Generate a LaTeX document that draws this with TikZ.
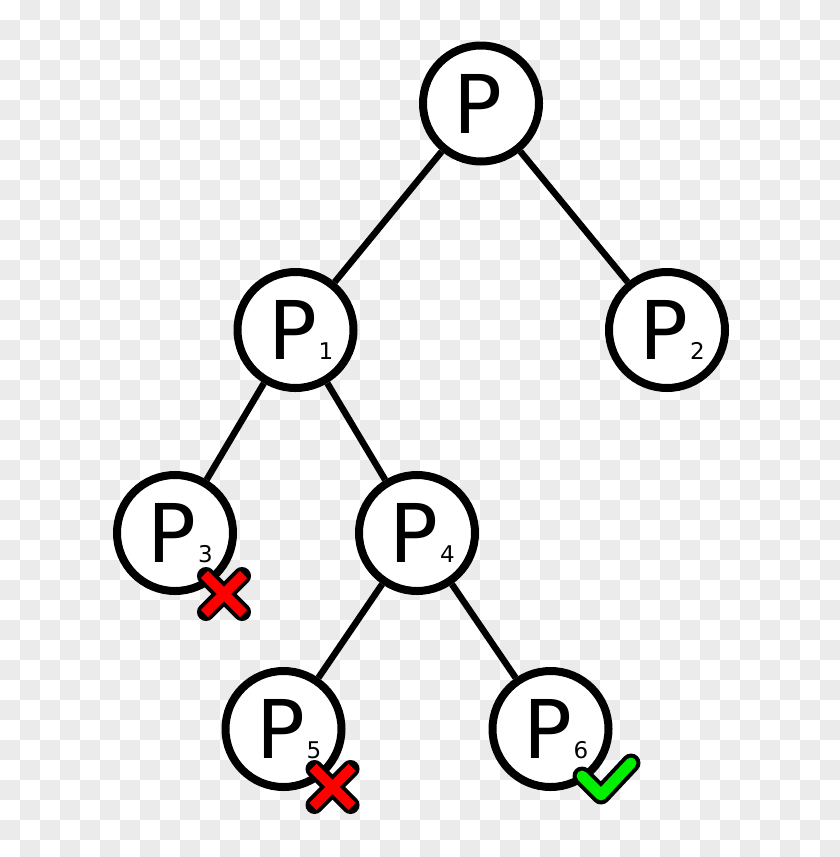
\documentclass[tikz,border=0pt]{standalone}
\usepackage{fontspec}
\setmainfont{DejaVu Sans}
\definecolor{checkgrey}{RGB}{235,235,235}
\definecolor{xred}{RGB}{255,0,0}
\definecolor{okgreen}{RGB}{0,240,0}
\begin{document}
\begin{tikzpicture}[x=1pt,y=-1pt,
  proc/.style={circle,draw=black,line width=8pt,fill=white,minimum size=116pt,inner sep=0pt},
  plabel/.style={inner sep=0pt,font=\fontsize{81}{90}\selectfont},
  sublabel/.style={inner sep=0pt,anchor=base west,font=\fontsize{23}{26}\selectfont},
  edge/.style={line width=6.5pt,draw=black},
  fail/.pic={
    \draw[black,line width=18pt,line cap=round] (-18,-18) -- (18,18) (-18,18) -- (18,-18);
    \draw[xred,line width=10pt,line cap=rect] (-16,-16) -- (16,16) (-16,16) -- (16,-16);
  },
  ok/.pic={
    \draw[black,line width=19pt,line cap=round,line join=round] (31.5,47) -- (50.5,66) -- (80.5,34);
    \draw[okgreen,line width=11pt,line cap=round,line join=round] (31.5,47) -- (50.5,66) -- (80.5,34);
  }]
\useasboundingbox (0,0) rectangle (840,857);
\begin{scope}
  \clip (0,0) rectangle (840,857);
  \foreach \x in {0,40,...,800}{\foreach \y in {20,60,...,840}{\fill[checkgrey] (\x,\y) rectangle ++(20,20);}}
  \foreach \x in {20,60,...,820}{\foreach \y in {0,40,...,840}{\fill[checkgrey] (\x,\y) rectangle ++(20,20);}}
\end{scope}

% circles
\node[proc] (p)  at (481,103.5) {};
\node[proc] (p1) at (295.5,330) {};
\node[proc] (p2) at (667,330) {};
\node[proc] (p3) at (175,533) {};
\node[proc] (p4) at (417,533) {};
\node[proc] (p5) at (283.5,729) {};
\node[proc] (p6) at (550.5,729) {};

% edges
\draw[edge] (p) -- (p1);
\draw[edge] (p) -- (p2);
\draw[edge] (p1) -- (p3);
\draw[edge] (p1) -- (p4);
\draw[edge] (p4) -- (p5);
\draw[edge] (p4) -- (p6);

% labels
\node[plabel] (pt)  at ([xshift=-2.6pt]p.center)  {P};
\node[plabel] (p1t) at ([xshift=-2.6pt]p1.center) {P};
\node[plabel] (p2t) at ([xshift=-2.6pt]p2.center) {P};
\node[plabel] (p3t) at ([xshift=-2.6pt]p3.center) {P};
\node[plabel] (p4t) at ([xshift=-2.6pt]p4.center) {P};
\node[plabel] (p5t) at ([xshift=-2.6pt]p5.center) {P};
\node[plabel] (p6t) at ([xshift=-2.6pt]p6.center) {P};
\node[sublabel] (p1s) at ([xshift=1pt]p1t.base east) {1};
\node[sublabel] (p2s) at ([xshift=1pt]p2t.base east) {2};
\node[sublabel] (p3s) at ([xshift=1pt]p3t.base east) {3};
\node[sublabel] (p4s) at ([xshift=1pt]p4t.base east) {4};
\node[sublabel] (p5s) at ([xshift=1pt]p5t.base east) {5};
\node[sublabel] (p6s) at ([xshift=1pt]p6t.base east) {6};

% marks
\pic at ([shift={(49,61)}]p3.center) {fail};
\pic at ([shift={(49,58)}]p5.center) {fail};
\pic at (p6.center) {ok};
\end{tikzpicture}
\end{document}
